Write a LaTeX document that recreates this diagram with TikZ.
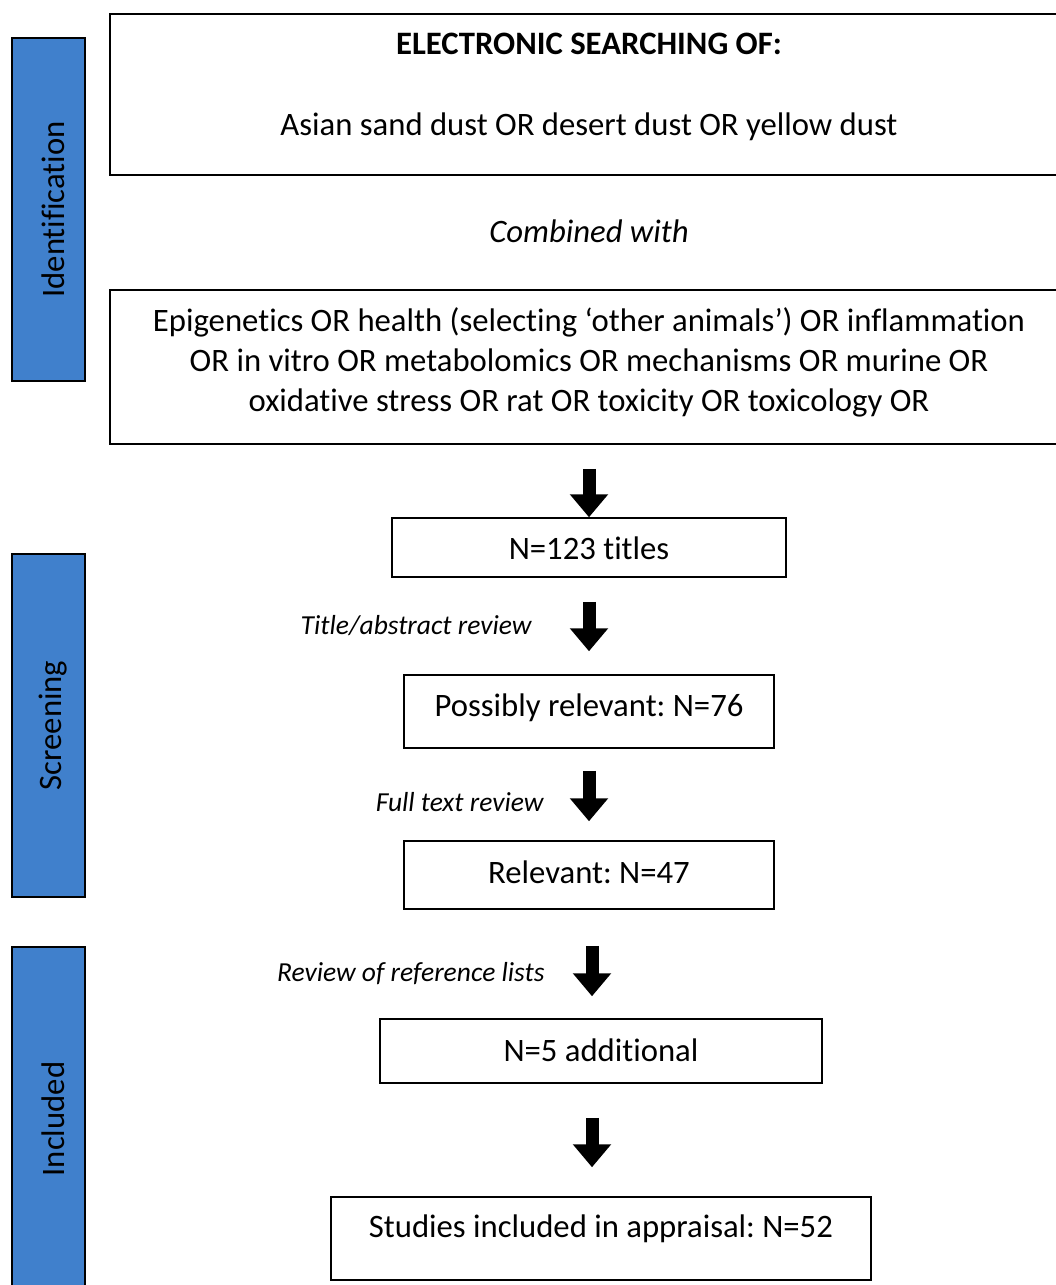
\documentclass[tikz,border=0pt]{standalone}
\usepackage{fontspec}
\setmainfont{Carlito}[Ligatures=NoCommon]
\usetikzlibrary{arrows.meta}

\definecolor{stageblue}{RGB}{64,128,204}
\newcommand{\nudge}[2]{\raisebox{#1}[\height][\depth]{#2}}
\frenchspacing

\begin{document}
\begin{tikzpicture}[x=1pt, y=-1pt,
    every node/.style={font=\fontsize{32.7}{40}\selectfont},
    box/.style={draw, line width=1.5pt, align=center, inner sep=0pt},
    stage/.style={draw, line width=1.5pt, fill=stageblue, rotate=90,
        minimum width=343pt, minimum height=73pt, inner sep=0pt},
    bigarrow/.style={line width=13pt, -{Triangle[width=37pt,length=23pt]}},
    lbl/.style={font=\fontsize{27.5}{33}\selectfont\itshape, inner sep=0pt}]

% Frame
\clip (0,0) rectangle (1056,1285);

% Stages
\node[stage] (ident) at (48.5,209.5) {\nudge{-5pt}{Identification}};
\node[stage] (screen) at (48.5,725.5) {\nudge{-5pt}{Screening}};
\node[stage, minimum width=344pt] (incl) at (48.5,1119) {\nudge{-5pt}{Included}};

% Search
\node[box, minimum width=958pt, minimum height=161pt] (search) at (589,94.5) {};
\node[font=\fontsize{32.7}{40}\selectfont\bfseries] (searchhead) at (589,44) {ELECTRONIC SEARCHING OF:};
\node (searchdust) at (589,127) {Asian sand dust OR desert dust OR yellow dust};
\node[font=\fontsize{32.7}{40}\selectfont\itshape] (combined) at (589,231) {Combined with};
\node[box, minimum width=958pt, minimum height=154pt] (terms) at (589,367)
    {\nudge{4pt}{\begin{tabular}{@{}c@{}}
     Epigenetics OR health (selecting `other animals') OR inflammation\\
     OR in vitro OR metabolomics OR mechanisms OR murine OR\\
     oxidative stress OR rat OR toxicity OR toxicology OR
     \end{tabular}}};

% Counts
\node[box, minimum width=394pt, minimum height=59pt] (titles) at (589,547.5) {\nudge{-1pt}{N=123 titles}};
\node[box, minimum width=370pt, minimum height=73pt] (possible) at (589,711.5) {\nudge{4pt}{Possibly relevant: N=76}};
\node[box, minimum width=370pt, minimum height=68pt] (relevant) at (589,875) {\nudge{3pt}{Relevant: N=47}};
\node[box, minimum width=442pt, minimum height=64pt] (additional) at (601,1051) {\nudge{1pt}{N=5 additional}};
\node[box, minimum width=540pt, minimum height=83pt] (included) at (601,1238.5) {\nudge{10pt}{Studies included in appraisal: N=52}};

% Arrows
\draw[bigarrow, shorten <=24pt] (terms.south -| titles.north) -- (titles.north);
\draw[bigarrow, shorten <=24pt, shorten >=23pt] (titles.south) -- (possible.north)
    node[lbl, midway, left=51pt] {Title/abstract review};
\draw[bigarrow, shorten <=22pt, shorten >=19pt] (possible.south) -- (relevant.north)
    node[lbl, midway, left=39pt, yshift=-7.5pt] {Full text review};
\draw[bigarrow, shorten <=36pt, shorten >=22pt] ([xshift=3pt]relevant.south) -- ([xshift=-9pt]additional.north)
    node[lbl, midway, left=41pt, yshift=-10pt] {Review of reference lists};
\draw[bigarrow, shorten <=34pt, shorten >=29pt] ([xshift=-9pt]additional.south) -- ([xshift=-9pt]included.north);

\end{tikzpicture}
\end{document}
